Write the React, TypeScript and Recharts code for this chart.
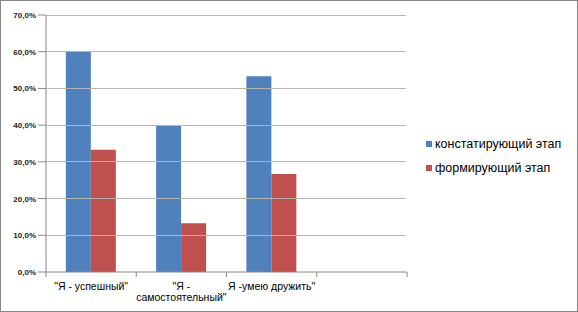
import React from 'react';
import { BarChart, Bar, XAxis, YAxis, Legend } from 'recharts';

const categories = ['"Я - успешный"', '"Я -\nсамостоятельный"', 'Я -умею дружить"', ''];
const stage1 = [0.6, 0.4, 0.533];
const stage2 = [0.333, 0.133, 0.267];
const yTicks = [0, 0.1, 0.2, 0.3, 0.4, 0.5, 0.6, 0.7];
const seriesNames = ['констатирующий этап', 'формирующий этап'];
const colors = ['#4F81BD', '#C0504D'];

const data = categories.map((c, i) => ({
  name: c,
  s1: stage1[i] ?? null,
  s2: stage2[i] ?? null,
}));

const FONT = "'Liberation Sans', Arial, sans-serif";
const CHART_W = 578;
const CHART_H = 312;
const MARGIN = { top: 15, right: 171, left: 0, bottom: 0 };
const Y_W = 46;
const PLOT_W = CHART_W - MARGIN.right - MARGIN.left - Y_W;
const TICK_SIZE = 8;
const TICK_MARGIN = 2;

const fmt = (v: number) => (v * 100).toFixed(1).replace('.', ',') + '%';

const YTick = (props: any) => {
  const { x, y, payload } = props;
  const axisX = x + TICK_SIZE + TICK_MARGIN;
  return (
    <g>
      {payload.value !== 0 && (
        <path d={`M${axisX},${y}H${axisX + PLOT_W - 1}`} stroke="#b4b4b4" fill="none" shapeRendering="crispEdges" />
      )}
      <text x={x} y={y} dy={3} textAnchor="end" style={{ fontFamily: FONT }} fontSize={8} fontWeight="bold" fill="#222">
        {fmt(payload.value)}
      </text>
    </g>
  );
};

const CatTick = (props: any) => {
  const { x, y, payload, index } = props;
  const half = payload.offset || 0;
  const lines = String(payload.value).split('\n');
  const boundaries = index === 0 ? Array.from({ length: categories.length + 1 }, (_, k) => x - half + k * 2 * half) : [];
  return (
    <g>
      {boundaries.map((bx, k) => (
        <line key={k} x1={bx} x2={bx} y1={y} y2={y + 5} stroke="#868686" />
      ))}
      {lines.map((l: string, i: number) => (
        <text key={i} x={x} y={y + 18 + i * 11} textAnchor="middle" style={{ fontFamily: FONT }} fontSize={10.5} fill="#000">
          {l}
        </text>
      ))}
    </g>
  );
};

const LegendContent = () => (
  <div style={{ fontFamily: FONT, fontSize: 12.5, color: '#000', lineHeight: '24px' }}>
    {seriesNames.map((n, i) => (
      <div key={n} style={{ display: 'flex', alignItems: 'center', whiteSpace: 'nowrap' }}>
        <span style={{ width: 6, height: 6, background: colors[i], display: 'inline-block', marginRight: 3 }} />
        {n}
      </div>
    ))}
  </div>
);

export default function App() {
  return (
    <div style={{ position: 'absolute', left: 0, top: 0, width: CHART_W, height: CHART_H }}>
      <BarChart
        width={CHART_W}
        height={CHART_H}
        data={data}
        margin={MARGIN}
        barCategoryGap="22%"
        barGap={0}
      >
        <YAxis
          domain={[0, 0.7]}
          ticks={yTicks}
          width={Y_W}
          axisLine={{ stroke: '#868686' }}
          tickLine={{ stroke: '#868686' }}
          tickSize={TICK_SIZE}
          tickMargin={TICK_MARGIN}
          tick={<YTick />}
          interval={0}
        />
        <XAxis
          dataKey="name"
          height={40}
          axisLine={{ stroke: '#868686' }}
          tickLine={false}
          tick={<CatTick />}
          interval={0}
          tickMargin={0}
          tickSize={0}
        />
        <Legend
          layout="horizontal"
          verticalAlign="middle"
          align="center"
          content={<LegendContent />}
          wrapperStyle={{ position: 'absolute', left: 426, top: 132, width: 150 }}
        />
        <Bar dataKey="s1" name={seriesNames[0]} fill={colors[0]} isAnimationActive={false} />
        <Bar dataKey="s2" name={seriesNames[1]} fill={colors[1]} isAnimationActive={false} />
      </BarChart>
      <div style={{ position: 'absolute', inset: 0, border: '1px solid #868686', boxSizing: 'border-box', pointerEvents: 'none' }} />
    </div>
  );
}
